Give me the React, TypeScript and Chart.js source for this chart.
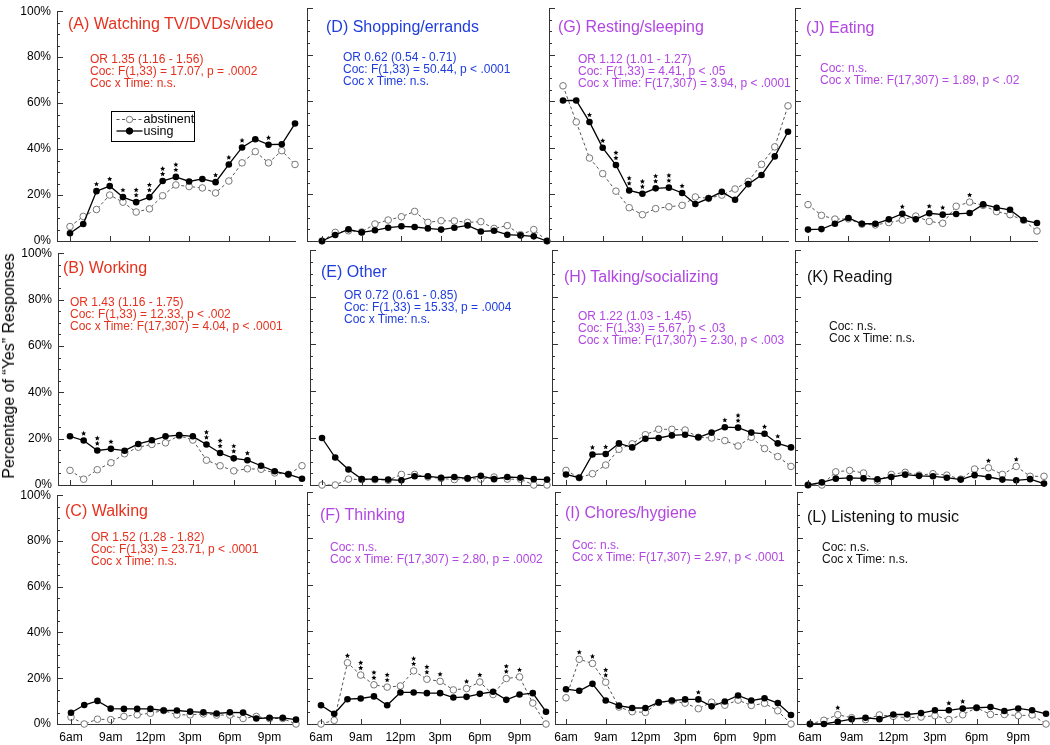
import React, { useEffect, useRef } from 'react';
import { Chart, registerables } from 'chart.js';

Chart.register(...registerables);

// ---------- data ----------
const hourLabels = ['6am', '7am', '8am', '9am', '10am', '11am', '12pm', '1pm', '2pm', '3pm', '4pm', '5pm', '6pm', '7pm', '8pm', '9pm', '10pm', '11pm'];
const xTickHours = ['6am', '9am', '12pm', '3pm', '6pm', '9pm'];
const yTickValues = [0, 20, 40, 60, 80, 100];
const seriesNames = ['abstinent', 'using'];

const aUsing = [3.4, 7.4, 21.7, 23.9, 19.1, 16.9, 19.1, 26.1, 27.9, 25.9, 27.0, 25.6, 33.3, 40.7, 44.3, 41.9, 42.1, 51.1];
const aAbst = [6.3, 10.7, 13.7, 20.0, 16.9, 12.6, 14.0, 19.7, 24.4, 23.7, 23.1, 20.9, 26.1, 34.0, 38.9, 34.0, 39.3, 33.3];
const aStars = [0, 0, 1, 1, 1, 2, 2, 2, 2, 0, 0, 1, 1, 1, 0, 1, 0, 0];

const bUsing = [21.0, 19.2, 14.9, 15.6, 14.8, 17.7, 19.3, 21.0, 21.5, 21.0, 17.5, 13.8, 11.5, 10.7, 8.3, 5.9, 4.6, 2.7];
const bAbst = [6.3, 2.5, 6.6, 9.6, 13.5, 16.3, 17.5, 18.2, 21.3, 19.4, 10.7, 8.3, 6.1, 7.0, 6.8, 5.2, 4.6, 8.3];
const bStars = [0, 1, 2, 1, 0, 0, 0, 0, 0, 0, 2, 2, 2, 1, 0, 0, 0, 0];

const cUsing = [4.9, 8.3, 10.1, 6.7, 6.6, 6.6, 6.6, 5.9, 5.9, 5.4, 5.1, 4.6, 5.1, 5.0, 2.4, 2.7, 2.7, 1.9];
const cAbst = [3.0, 0, 2.1, 1.9, 3.3, 4.0, 4.7, 5.9, 4.0, 4.0, 4.4, 3.9, 3.9, 2.4, 3.3, 2.4, 2.4, 0];
const cStars = [0, 0, 0, 0, 0, 0, 0, 0, 0, 0, 0, 0, 0, 0, 0, 0, 0, 0];

const dUsing = [0, 2.6, 5.0, 3.7, 4.6, 5.7, 6.3, 6.0, 5.4, 4.9, 5.7, 6.7, 4.1, 4.4, 2.7, 2.4, 2.0, 0];
const dAbst = [0, 3.7, 4.4, 3.9, 7.3, 9.0, 10.4, 12.7, 8.0, 8.7, 8.6, 8.0, 8.3, 5.4, 6.6, 2.7, 4.9, 0];
const dStars = [0, 0, 0, 0, 0, 0, 0, 0, 0, 0, 0, 0, 0, 0, 0, 0, 0, 0];

const eUsing = [20.0, 11.7, 6.6, 2.5, 2.5, 2.3, 2.0, 3.7, 3.7, 3.1, 3.4, 2.8, 3.9, 2.5, 3.4, 3.1, 2.5, 2.3];
const eAbst = [0, 0, 2.5, 2.3, 2.3, 2.0, 4.5, 4.5, 3.4, 2.8, 2.3, 2.8, 2.5, 3.4, 2.5, 2.5, 0, 0];
const eStars = [0, 0, 0, 0, 0, 0, 0, 0, 0, 0, 0, 0, 0, 0, 0, 0, 0, 0];

const fUsing = [8.1, 4.4, 10.7, 11.0, 11.9, 8.1, 13.6, 13.6, 13.3, 13.3, 11.4, 11.7, 13.0, 13.9, 10.4, 12.7, 13.3, 5.3];
const fAbst = [0, 1.6, 26.4, 21.1, 16.9, 15.9, 16.4, 22.9, 19.3, 18.4, 14.7, 15.3, 18.1, 12.7, 19.6, 20.3, 9.0, 0];
const fStars = [0, 0, 1, 2, 2, 2, 0, 2, 2, 1, 0, 1, 1, 0, 2, 1, 0, 0];

const gUsing = [60.3, 60.3, 51.1, 40.0, 32.6, 21.7, 20.3, 22.6, 22.9, 20.6, 15.9, 18.3, 21.1, 17.7, 24.4, 28.3, 36.3, 46.9];
const gAbst = [66.6, 51.1, 35.6, 28.9, 21.4, 14.3, 11.3, 13.9, 14.7, 15.3, 18.9, 18.3, 19.7, 22.3, 25.6, 32.9, 40.4, 58.0];
const gStars = [0, 0, 1, 1, 2, 2, 2, 2, 2, 1, 0, 0, 0, 0, 0, 0, 0, 0];

const hUsing = [4.5, 3.1, 13.0, 13.2, 17.7, 16.0, 19.7, 20.0, 21.1, 21.4, 20.3, 22.3, 24.6, 24.4, 22.3, 21.8, 17.7, 16.0];
const hAbst = [6.2, 3.1, 4.8, 8.5, 15.2, 17.5, 21.4, 23.7, 23.7, 23.4, 20.3, 20.0, 18.9, 16.6, 20.3, 15.5, 12.1, 7.9];
const hStars = [0, 0, 1, 1, 0, 0, 0, 0, 0, 0, 0, 0, 1, 2, 0, 1, 1, 0];

const iUsing = [15.0, 14.3, 17.3, 10.1, 7.9, 6.9, 6.9, 9.3, 10.1, 10.6, 10.6, 7.6, 9.7, 12.3, 10.1, 11.1, 9.0, 3.9];
const iAbst = [11.3, 27.9, 26.1, 18.0, 7.3, 5.3, 5.0, 9.3, 9.9, 9.0, 6.6, 9.4, 8.1, 10.3, 8.0, 8.9, 5.7, 0];
const iStars = [0, 1, 1, 2, 0, 0, 0, 0, 0, 0, 1, 0, 0, 0, 0, 0, 0, 0];

const jUsing = [4.9, 5.1, 7.4, 9.9, 7.4, 7.4, 9.3, 11.7, 9.3, 11.9, 11.3, 11.6, 12.0, 15.7, 14.3, 13.4, 9.0, 7.7];
const jAbst = [15.6, 11.0, 9.4, 9.5, 7.2, 6.9, 7.9, 9.0, 10.7, 8.4, 7.6, 14.9, 16.7, 15.3, 12.6, 11.3, 8.9, 4.3];
const jStars = [0, 0, 0, 0, 0, 0, 0, 1, 0, 1, 1, 0, 1, 0, 0, 0, 0, 0];

const kUsing = [0, 1.1, 2.7, 3.0, 2.8, 2.4, 3.4, 4.4, 3.9, 3.7, 3.1, 2.3, 4.2, 3.4, 2.3, 2.0, 2.5, 0.6];
const kAbst = [0, 0, 5.6, 6.2, 5.1, 1.7, 4.5, 5.4, 4.2, 4.8, 4.2, 2.5, 6.8, 7.3, 4.5, 7.9, 3.7, 3.7];
const kStars = [0, 0, 0, 0, 0, 0, 0, 0, 0, 0, 0, 0, 0, 1, 0, 1, 0, 0];

const lUsing = [0, 0, 1.0, 2.1, 2.7, 2.1, 4.1, 4.1, 4.7, 5.9, 5.9, 6.7, 7.0, 7.3, 5.6, 6.7, 5.9, 4.4];
const lAbst = [0, 1.6, 4.0, 2.7, 1.9, 3.9, 3.3, 2.7, 3.0, 3.6, 1.9, 4.0, 7.0, 4.1, 4.1, 3.6, 3.9, 0];
const lStars = [0, 0, 1, 0, 0, 0, 0, 0, 0, 0, 1, 1, 0, 0, 0, 0, 0, 0];

const titles = [
  '(A) Watching TV/DVDs/video', '(B) Working', '(C) Walking',
  '(D) Shopping/errands', '(E) Other', '(F) Thinking',
  '(G) Resting/sleeping', '(H) Talking/socializing', '(I) Chores/hygiene',
  '(J) Eating', '(K) Reading', '(L) Listening to music',
];
const statsA = ['OR 1.35 (1.16 - 1.56)', 'Coc: F(1,33) = 17.07, p = .0002', 'Coc x Time: n.s.'];
const statsB = ['OR 1.43 (1.16 - 1.75)', 'Coc: F(1,33) = 12.33, p < .002', 'Coc x Time: F(17,307) = 4.04, p < .0001'];
const statsC = ['OR 1.52 (1.28 - 1.82)', 'Coc: F(1,33) = 23.71, p < .0001', 'Coc x Time: n.s.'];
const statsD = ['OR 0.62 (0.54 - 0.71)', 'Coc: F(1,33) = 50.44, p < .0001', 'Coc x Time: n.s.'];
const statsE = ['OR 0.72 (0.61 - 0.85)', 'Coc: F(1,33) = 15.33, p = .0004', 'Coc x Time: n.s.'];
const statsF = ['Coc: n.s.', 'Coc x Time: F(17,307) = 2.80, p = .0002'];
const statsG = ['OR 1.12 (1.01 - 1.27)', 'Coc: F(1,33) = 4.41, p < .05', 'Coc x Time: F(17,307) = 3.94, p < .0001'];
const statsH = ['OR 1.22 (1.03 - 1.45)', 'Coc: F(1,33) = 5.67, p < .03', 'Coc x Time: F(17,307) = 2.30, p < .003'];
const statsI = ['Coc: n.s.', 'Coc x Time: F(17,307) = 2.97, p < .0001'];
const statsJ = ['Coc: n.s.', 'Coc x Time: F(17,307) = 1.89, p < .02'];
const statsK = ['Coc: n.s.', 'Coc x Time: n.s.'];
const statsL = ['Coc: n.s.', 'Coc x Time: n.s.'];

const yAxisTitle = 'Percentage of \u201CYes\u201D Responses';

// ---------- styling / layout ----------
const FONT = '"Liberation Sans", Arial, Helvetica, sans-serif';
const RED = '#e5321f';
const BLUE = '#1f3ddc';
const PURPLE = '#b246e2';
const BLACK = '#111111';
const AXIS = '#333333';

const rowTop = [8, 250, 492];
const rowBottom = [241, 485, 724];
const PADL = 57, PADT = 10, PADR = 8, PADB = 26;

type PanelDef = {
  title: string; stats: string[]; color: string;
  using: number[]; abstinent: number[]; stars: number[];
  row: number; col: number; axisX: number; firstX: number; lastX: number;
  titleAt: [number, number]; statsAt: [number, number]; legend?: boolean;
};

const panels: PanelDef[] = [
  { title: titles[0], stats: statsA, color: RED, using: aUsing, abstinent: aAbst, stars: aStars, row: 0, col: 0, axisX: 57, firstX: 70, lastX: 295, titleAt: [68, 24], statsAt: [90, 59], legend: true },
  { title: titles[1], stats: statsB, color: RED, using: bUsing, abstinent: bAbst, stars: bStars, row: 1, col: 0, axisX: 58, firstX: 70, lastX: 302, titleAt: [63, 268], statsAt: [70, 302] },
  { title: titles[2], stats: statsC, color: RED, using: cUsing, abstinent: cAbst, stars: cStars, row: 2, col: 0, axisX: 57, firstX: 71, lastX: 296, titleAt: [65, 511], statsAt: [91, 537] },
  { title: titles[3], stats: statsD, color: BLUE, using: dUsing, abstinent: dAbst, stars: dStars, row: 0, col: 1, axisX: 307, firstX: 322, lastX: 547, titleAt: [326, 27], statsAt: [343, 57] },
  { title: titles[4], stats: statsE, color: BLUE, using: eUsing, abstinent: eAbst, stars: eStars, row: 1, col: 1, axisX: 310, firstX: 322, lastX: 547, titleAt: [321, 272], statsAt: [344, 295] },
  { title: titles[5], stats: statsF, color: PURPLE, using: fUsing, abstinent: fAbst, stars: fStars, row: 2, col: 1, axisX: 307, firstX: 321, lastX: 546, titleAt: [320, 515], statsAt: [330, 547] },
  { title: titles[6], stats: statsG, color: PURPLE, using: gUsing, abstinent: gAbst, stars: gStars, row: 0, col: 2, axisX: 549, firstX: 563, lastX: 788, titleAt: [558, 27], statsAt: [578, 59] },
  { title: titles[7], stats: statsH, color: PURPLE, using: hUsing, abstinent: hAbst, stars: hStars, row: 1, col: 2, axisX: 552, firstX: 566, lastX: 791, titleAt: [564, 277], statsAt: [578, 316] },
  { title: titles[8], stats: statsI, color: PURPLE, using: iUsing, abstinent: iAbst, stars: iStars, row: 2, col: 2, axisX: 555, firstX: 566, lastX: 791, titleAt: [565, 513], statsAt: [572, 545] },
  { title: titles[9], stats: statsJ, color: PURPLE, using: jUsing, abstinent: jAbst, stars: jStars, row: 0, col: 3, axisX: 795, firstX: 808, lastX: 1037, titleAt: [806, 28], statsAt: [820, 68] },
  { title: titles[10], stats: statsK, color: BLACK, using: kUsing, abstinent: kAbst, stars: kStars, row: 1, col: 3, axisX: 795, firstX: 808, lastX: 1044, titleAt: [807, 277], statsAt: [829, 326] },
  { title: titles[11], stats: statsL, color: BLACK, using: lUsing, abstinent: lAbst, stars: lStars, row: 2, col: 3, axisX: 797, firstX: 810, lastX: 1046, titleAt: [807, 517], statsAt: [822, 547] },
];

function drawStar(ctx: CanvasRenderingContext2D, cx: number, cy: number, r: number) {
  ctx.beginPath();
  for (let k = 0; k < 10; k++) {
    const ang = -Math.PI / 2 + (k * Math.PI) / 5;
    const rr = k % 2 === 0 ? r : r * 0.45;
    const px = cx + rr * Math.cos(ang);
    const py = cy + rr * Math.sin(ang);
    if (k === 0) ctx.moveTo(px, py); else ctx.lineTo(px, py);
  }
  ctx.closePath();
  ctx.fill();
}

function PanelChart({ p }: { p: PanelDef }) {
  const ref = useRef<HTMLCanvasElement>(null);
  const top = rowTop[p.row];
  const bottom = rowBottom[p.row];
  const w = PADL + (p.lastX - p.axisX) + PADR;
  const h = PADT + (bottom - top) + PADB;
  const unit = (p.lastX - p.firstX) / (hourLabels.length - 1);
  const xMin = -(p.firstX - p.axisX) / unit;
  const xTickIdx = xTickHours.map((l) => hourLabels.indexOf(l));

  useEffect(() => {
    const canvas = ref.current;
    if (!canvas) return;

    const axisTicks = {
      id: 'axisTicks',
      afterDraw(chart: any) {
        const { ctx, chartArea } = chart;
        const xs = chart.scales.x, ys = chart.scales.y;
        ctx.save();
        ctx.strokeStyle = AXIS;
        ctx.lineWidth = 1;
        ctx.beginPath();
        for (let v = 0; v <= 100; v += 5) {
          const py = Math.round(ys.getPixelForValue(v)) + 0.5;
          const len = v % 20 === 0 ? 6 : 3;
          ctx.moveTo(chartArea.left, py);
          ctx.lineTo(chartArea.left + len, py);
        }
        for (const t of xTickIdx) {
          const px = Math.round(xs.getPixelForValue(t)) + 0.5;
          ctx.moveTo(px, chartArea.bottom);
          ctx.lineTo(px, chartArea.bottom - 5);
        }
        ctx.stroke();
        ctx.restore();
      },
    };

    const starPlugin = {
      id: 'stars',
      afterDatasetsDraw(chart: any) {
        const { ctx } = chart;
        const xs = chart.scales.x, ys = chart.scales.y;
        ctx.save();
        ctx.fillStyle = '#000';
        p.stars.forEach((n, i) => {
          if (!n) return;
          const topY = Math.min(ys.getPixelForValue(p.using[i]), ys.getPixelForValue(p.abstinent[i]));
          const px = xs.getPixelForValue(i);
          for (let k = 0; k < n; k++) drawStar(ctx, px, topY - 7 - k * 5.2, 2.7);
        });
        ctx.restore();
      },
    };

    const legendPlugin = {
      id: 'boxLegend',
      afterDraw(chart: any) {
        if (!p.legend) return;
        const { ctx, chartArea } = chart;
        const bx = Math.round(chartArea.left + 54) + 0.5;
        const by = Math.round(chartArea.top + 100) + 0.5;
        const bw = 83, bh = 30;
        ctx.save();
        ctx.fillStyle = '#fff';
        ctx.fillRect(bx, by, bw, bh);
        ctx.strokeStyle = '#000';
        ctx.lineWidth = 1;
        ctx.strokeRect(bx, by, bw, bh);
        const rows = [
          { name: seriesNames[0], y: by + 8, dash: [3, 2.5], color: '#555', fill: '#fff', border: '#777' },
          { name: seriesNames[1], y: by + 19.5, dash: [], color: '#000', fill: '#000', border: '#000' },
        ];
        for (const r of rows) {
          ctx.setLineDash(r.dash);
          ctx.strokeStyle = r.color;
          ctx.lineWidth = r.dash.length ? 1 : 1.3;
          ctx.beginPath();
          ctx.moveTo(bx + 5, r.y);
          ctx.lineTo(bx + 31, r.y);
          ctx.stroke();
          ctx.setLineDash([]);
          ctx.beginPath();
          ctx.arc(bx + 18, r.y, 3.2, 0, Math.PI * 2);
          ctx.fillStyle = r.fill;
          ctx.fill();
          ctx.strokeStyle = r.border;
          ctx.lineWidth = 1;
          ctx.stroke();
          ctx.fillStyle = '#000';
          ctx.font = `12.5px ${FONT}`;
          ctx.textBaseline = 'middle';
          ctx.fillText(r.name, bx + 32, r.y + 0.5);
        }
        ctx.restore();
      },
    };

    const chart = new Chart(canvas, {
      type: 'line',
      data: {
        datasets: [
          {
            label: seriesNames[1],
            data: p.using.map((v, i) => ({ x: i, y: v })),
            borderColor: '#000',
            borderWidth: 1.3,
            pointRadius: 3.3,
            pointBackgroundColor: '#000',
            pointBorderColor: '#000',
            pointBorderWidth: 0,
            tension: 0,
            clip: false as any,
          },
          {
            label: seriesNames[0],
            data: p.abstinent.map((v, i) => ({ x: i, y: v })),
            borderColor: '#555',
            borderDash: [3, 2.5],
            borderWidth: 1,
            pointRadius: 3.3,
            pointBackgroundColor: '#fff',
            pointBorderColor: '#777',
            pointBorderWidth: 1,
            tension: 0,
            clip: false as any,
          },
        ],
      },
      options: {
        responsive: false,
        animation: false,
        devicePixelRatio: 1,
        events: [],
        layout: { padding: { left: 0, top: PADT, right: PADR, bottom: 0 } },
        plugins: { legend: { display: false }, tooltip: { enabled: false } },
        scales: {
          x: {
            type: 'linear',
            min: xMin,
            max: hourLabels.length - 1,
            grid: { display: false, drawTicks: false },
            border: { display: true, color: AXIS, width: 1 },
            afterBuildTicks: (s: any) => { s.ticks = xTickIdx.map((v) => ({ value: v })); },
            afterFit: (s: any) => { s.height = PADB; },
            ticks: {
              display: p.row === 2,
              autoSkip: false,
              maxRotation: 0,
              padding: 6,
              color: '#000',
              font: { family: FONT, size: 12 },
              callback: (v: any) => hourLabels[Number(v)] ?? '',
            },
          },
          y: {
            type: 'linear',
            min: 0,
            max: 100,
            grid: { display: false, drawTicks: false },
            border: { display: true, color: AXIS, width: 1 },
            afterBuildTicks: (s: any) => { s.ticks = yTickValues.map((v) => ({ value: v })); },
            afterFit: (s: any) => { s.width = PADL; },
            ticks: {
              display: p.col === 0,
              padding: 6,
              color: '#000',
              font: { family: FONT, size: 12 },
              callback: (v: any) => `${v}%`,
            },
          },
        },
      } as any,
      plugins: [axisTicks, starPlugin, legendPlugin],
    });
    return () => chart.destroy();
  }, []);

  return (
    <canvas
      ref={ref}
      width={w}
      height={h}
      style={{ position: 'absolute', left: p.axisX - PADL, top: top - PADT, width: w, height: h }}
    />
  );
}

export default function App() {
  return (
    <div style={{ position: 'absolute', left: 0, top: 0, width: 1050, height: 745, background: '#fff', overflow: 'hidden', fontFamily: FONT }}>
      {panels.map((p, i) => <PanelChart key={i} p={p} />)}
      {panels.map((p, i) => (
        <div key={`t${i}`} style={{ position: 'absolute', left: p.titleAt[0], top: p.titleAt[1] - 8, fontSize: 16, lineHeight: '16px', color: p.color, whiteSpace: 'nowrap' }}>
          {p.title}
        </div>
      ))}
      {panels.map((p, i) => (
        <div key={`s${i}`} style={{ position: 'absolute', left: p.statsAt[0], top: p.statsAt[1] - 6, fontSize: 12, lineHeight: '12px', color: p.color, whiteSpace: 'nowrap' }}>
          {p.stats.map((s, k) => <div key={k}>{s}</div>)}
        </div>
      ))}
      <div style={{ position: 'absolute', left: 9, top: 366, transform: 'translate(-50%, -50%) rotate(-90deg)', fontSize: 16, lineHeight: '16px', color: '#000', whiteSpace: 'nowrap' }}>
        {yAxisTitle}
      </div>
    </div>
  );
}
